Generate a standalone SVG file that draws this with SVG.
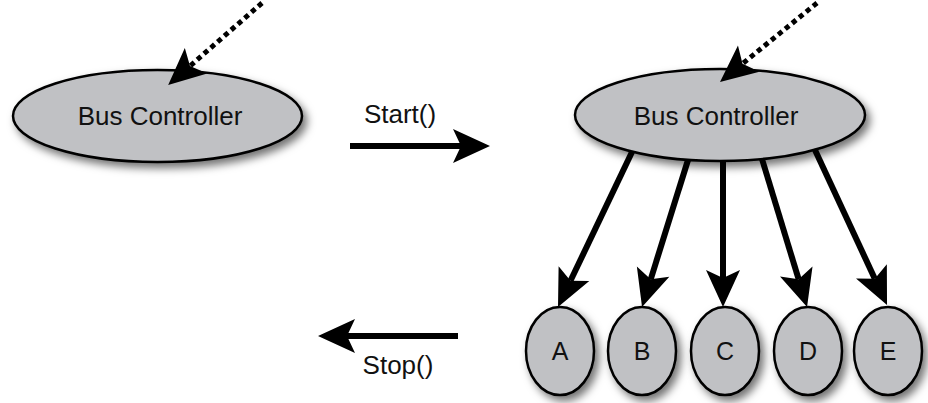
<svg xmlns="http://www.w3.org/2000/svg" width="928" height="403" viewBox="0 0 928 403">
<style>
.node ellipse{fill:#c0c1c4;stroke:#000;stroke-width:2.5;filter:url(#sh)}
.lbl{font-family:"Liberation Sans",Arial,sans-serif;font-size:26px;fill:#111;text-anchor:middle}
.sm{font-size:25px}
.solid{stroke:#000;stroke-width:6;fill:none;marker-end:url(#ah)}
.dot{stroke:#000;stroke-width:5;fill:none;stroke-dasharray:5 4;marker-end:url(#ah)}
</style>
<defs>
<filter id="sh" x="-20%" y="-30%" width="140%" height="170%">
<feDropShadow dx="4" dy="5" stdDeviation="4" flood-color="#000" flood-opacity="0.55"/>
</filter>
<marker id="ah" markerUnits="userSpaceOnUse" markerWidth="40" markerHeight="40" viewBox="0 -20 40 40" refX="8" refY="0" orient="auto" overflow="visible">
<path d="M0,-17 L37,0 L0,17 L8,0 Z" fill="#000"/>
</marker>
</defs>
<rect width="928" height="403" fill="#fff"/>
<g id="bc1" class="node"><ellipse cx="157.5" cy="116" rx="144.5" ry="46"/><text class="lbl" x="160" y="125">Bus Controller</text></g>
<g id="bc2" class="node"><ellipse cx="720" cy="115" rx="145" ry="46"/><text class="lbl" x="716" y="125">Bus Controller</text></g>
<g id="nA" class="node"><ellipse cx="560" cy="351" rx="34" ry="44"/><text class="lbl sm" x="560" y="360">A</text></g>
<g id="nB" class="node"><ellipse cx="642" cy="351" rx="34" ry="44"/><text class="lbl sm" x="642" y="360">B</text></g>
<g id="nC" class="node"><ellipse cx="725" cy="351" rx="34" ry="44"/><text class="lbl sm" x="725" y="360">C</text></g>
<g id="nD" class="node"><ellipse cx="808" cy="351" rx="34" ry="44"/><text class="lbl sm" x="808" y="360">D</text></g>
<g id="nE" class="node"><ellipse cx="888" cy="351" rx="34" ry="44"/><text class="lbl sm" x="888" y="360">E</text></g>
<g id="connectors">
<path class="dot" d="M262,3 L190,66"/>
<path class="dot" d="M817,3 L742.5,63.7"/>
<path class="solid" d="M350,146 L461,146"/>
<path class="solid" d="M458,336 L347,336"/>
<path class="solid" d="M632,152 L570.5,280.8"/>
<path class="solid" d="M688,160 L650.7,279.3"/>
<path class="solid" d="M723,161 L723,278"/>
<path class="solid" d="M762,159 L798.6,279.2"/>
<path class="solid" d="M815,150 L874.8,278.7"/>
<text class="lbl" x="400" y="123">Start()</text>
<text class="lbl" x="398" y="374">Stop()</text>
</g>
</svg>
